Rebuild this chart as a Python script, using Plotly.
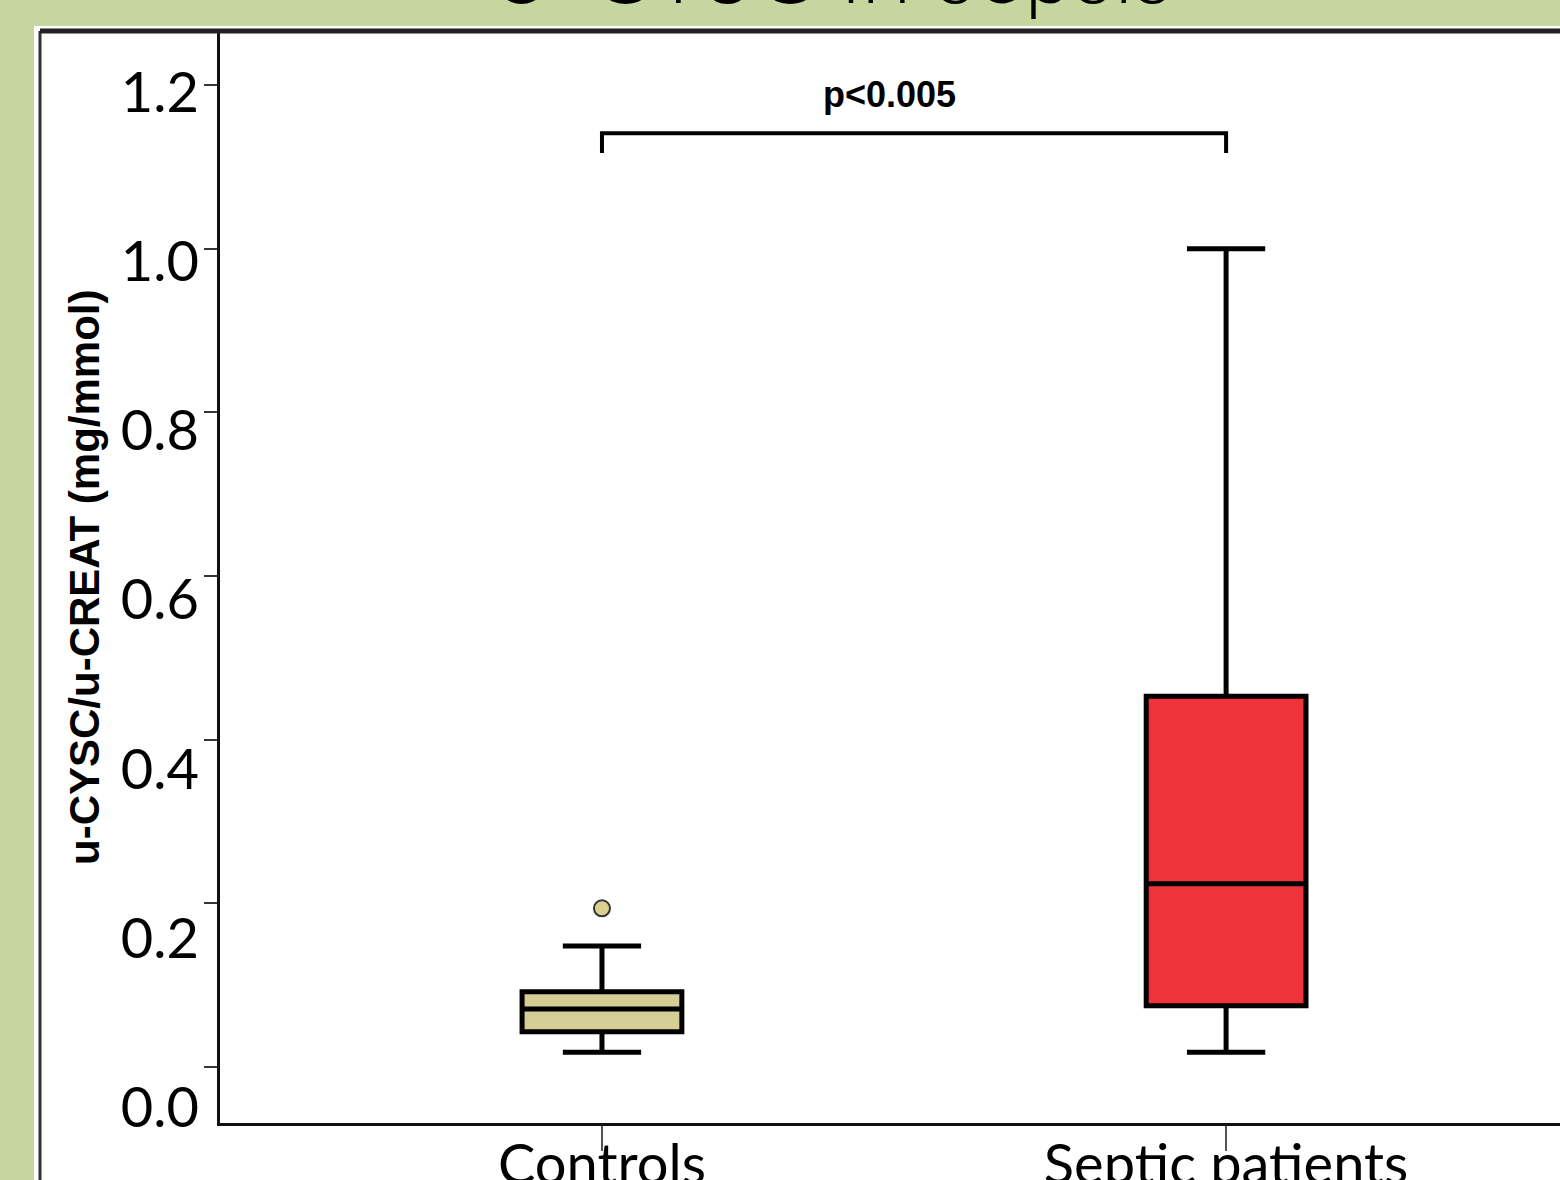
import plotly.graph_objects as go

# ---- data ----
categories = ["Controls", "Septic patients"]
lower_whisker = [0.018, 0.018]
q1 = [0.043, 0.075]
median = [0.071, 0.224]
q3 = [0.092, 0.453]
upper_whisker = [0.148, 1.000]
outlier_x = ["Controls"]
outlier_y = [0.194]
box_colors = ["#D5CE97", "#EF333A"]
outlier_color = "#D9D08F"

ytick_vals = [0.0, 0.2, 0.4, 0.6, 0.8, 1.0, 1.2]
ytick_text = ["0.0", "0.2", "0.4", "0.6", "0.8", "1.0", "1.2"]

bracket_x = ["Controls", "Controls", "Septic patients", "Septic patients"]
bracket_y = [1.117, 1.141, 1.141, 1.117]
p_text = "p<0.005"
title_text = "U-CYSC in sepsis"
y_title = "u-CYSC/u-CREAT (mg/mmol)"

W, H = 1560, 1180
L, R, T, B = 220, 0, 31, 57
PW, PH = W - L - R, H - T - B


def px_x(px):
    return (px - L) / PW


def px_y(py):
    return (H - B - py) / PH


fig = go.Figure()

for i, cat in enumerate(categories):
    fig.add_trace(go.Box(
        x=[cat],
        q1=[q1[i]], median=[median[i]], q3=[q3[i]],
        lowerfence=[lower_whisker[i]], upperfence=[upper_whisker[i]],
        fillcolor=box_colors[i],
        line=dict(color="black", width=5),
        width=0.256,
        whiskerwidth=0.49,
        boxpoints=False,
        showlegend=False,
        hoverinfo="skip",
    ))

fig.add_trace(go.Scatter(
    x=outlier_x, y=outlier_y, mode="markers",
    marker=dict(size=16, color=outlier_color, line=dict(color="#333", width=2)),
    showlegend=False, hoverinfo="skip",
))

fig.add_trace(go.Scatter(
    x=bracket_x, y=bracket_y, mode="lines",
    line=dict(color="black", width=4),
    showlegend=False, hoverinfo="skip", cliponaxis=False,
))

fig.add_trace(go.Scatter(
    x=[categories[0]], y=[None], yaxis="y2", showlegend=False, hoverinfo="skip",
))

fig.update_layout(
    width=W, height=H, autosize=False,
    margin=dict(l=L, r=R, t=T, b=B, pad=0, autoexpand=False),
    paper_bgcolor="#C5D79E",
    plot_bgcolor="white",
    boxmode="overlay",
    xaxis=dict(
        type="category",
        range=[-0.612, 1.535],
        automargin=False,
        showline=True, linecolor="#111", linewidth=3,
        ticks="outside", ticklen=25, tickwidth=2, tickcolor="#555",
        tickfont=dict(family="Lato", size=56, color="black"),
        ticklabelstandoff=-34,
        showgrid=False, zeroline=False,
    ),
    yaxis=dict(
        range=[-0.0684, 1.266],
        automargin=False,
        tickvals=ytick_vals,
        showticklabels=False,
        showline=True, linecolor="#111", linewidth=3,
        ticks="outside", ticklen=13, tickwidth=2, tickcolor="#333",
        showgrid=False, zeroline=False,
    ),
    yaxis2=dict(
        overlaying="y", side="left",
        range=[-0.018, 1.272],
        automargin=False,
        tickvals=ytick_vals, ticktext=ytick_text,
        tickfont=dict(family="Lato", size=56, color="black"),
        ticks="", showline=False, showgrid=False, zeroline=False,
        ticklabelstandoff=20,
    ),
    shapes=[
        dict(type="rect", xref="paper", yref="paper",
             x0=px_x(34), x1=px_x(1600), y0=px_y(1200), y1=px_y(26),
             fillcolor="white", line=dict(width=0), layer="below"),
        dict(type="line", xref="paper", yref="paper",
             x0=px_x(40), x1=px_x(40), y0=px_y(1200), y1=px_y(31),
             line=dict(color="#333", width=3), layer="above"),
        dict(type="line", xref="paper", yref="paper",
             x0=px_x(40), x1=px_x(1600), y0=px_y(31), y1=px_y(31),
             line=dict(color="#222", width=5), layer="above"),
    ],
    annotations=[
        dict(text=p_text, x=0.46, y=1.189, xref="x", yref="y",
             showarrow=False, xanchor="center", yanchor="middle",
             font=dict(family="Liberation Sans", size=36, color="black", weight="bold")),
        dict(text=y_title, x=px_x(84), y=px_y(577), xref="paper", yref="paper",
             textangle=-90, showarrow=False, xanchor="center", yanchor="middle",
             font=dict(family="Liberation Sans", size=42, color="black", weight="bold")),
        dict(text=title_text, x=px_x(830), y=px_y(25), xref="paper", yref="paper",
             showarrow=False, xanchor="center", yanchor="bottom",
             font=dict(family="Lato", size=92, color="black", weight=300)),
    ],
)

fig.write_html(
    "out.html",
    config={"displayModeBar": False},
    post_script="document.body.style.margin='0px';document.body.style.overflow='hidden';"
                "document.documentElement.style.overflow='hidden';",
)
